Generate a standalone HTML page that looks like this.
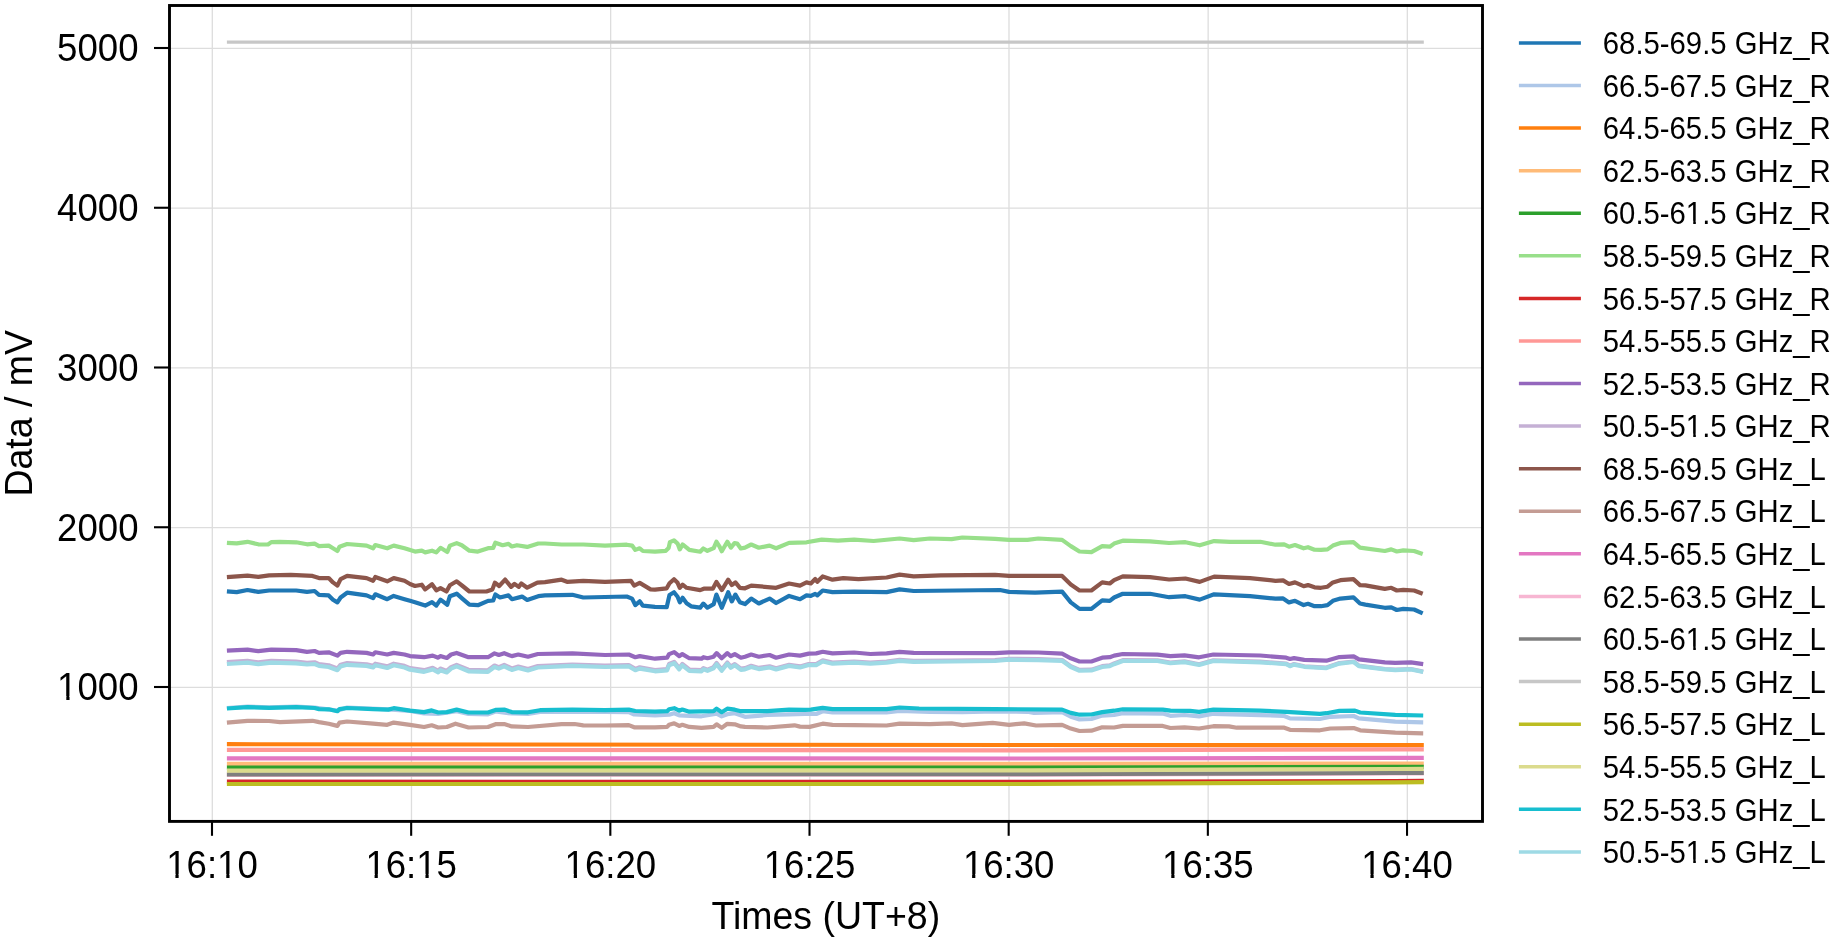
<!DOCTYPE html><html><head><meta charset="utf-8"><style>html,body{margin:0;padding:0;background:#fff;width:1847px;height:941px;overflow:hidden}svg{display:block;will-change:transform}</style></head><body><svg width="1847" height="941" viewBox="0 0 1847 941">
<rect x="0" y="0" width="1847" height="941" fill="#ffffff"/>
<line x1="212.30" y1="5.5" x2="212.30" y2="821.4" stroke="#dddddd" stroke-width="1.3"/>
<line x1="411.47" y1="5.5" x2="411.47" y2="821.4" stroke="#dddddd" stroke-width="1.3"/>
<line x1="610.64" y1="5.5" x2="610.64" y2="821.4" stroke="#dddddd" stroke-width="1.3"/>
<line x1="809.81" y1="5.5" x2="809.81" y2="821.4" stroke="#dddddd" stroke-width="1.3"/>
<line x1="1008.98" y1="5.5" x2="1008.98" y2="821.4" stroke="#dddddd" stroke-width="1.3"/>
<line x1="1208.15" y1="5.5" x2="1208.15" y2="821.4" stroke="#dddddd" stroke-width="1.3"/>
<line x1="1407.32" y1="5.5" x2="1407.32" y2="821.4" stroke="#dddddd" stroke-width="1.3"/>
<line x1="169.5" y1="687.40" x2="1482.5" y2="687.40" stroke="#dddddd" stroke-width="1.3"/>
<line x1="169.5" y1="527.65" x2="1482.5" y2="527.65" stroke="#dddddd" stroke-width="1.3"/>
<line x1="169.5" y1="367.90" x2="1482.5" y2="367.90" stroke="#dddddd" stroke-width="1.3"/>
<line x1="169.5" y1="208.15" x2="1482.5" y2="208.15" stroke="#dddddd" stroke-width="1.3"/>
<line x1="169.5" y1="48.40" x2="1482.5" y2="48.40" stroke="#dddddd" stroke-width="1.3"/>
<path d="M226.9,591.3 L236.7,592.1 L247.5,590.0 L258.3,591.9 L269.1,590.5 L296.2,590.5 L307.0,591.9 L314.6,591.0 L319.0,594.8 L328.7,595.4 L333.0,599.7 L337.4,602.4 L340.6,597.5 L347.1,592.7 L366.6,595.4 L373.1,598.1 L375.3,594.3 L387.2,599.2 L393.7,595.9 L404.5,599.2 L410.0,600.8 L415.0,602.2 L425.2,605.6 L432.0,602.2 L436.3,605.6 L440.5,599.6 L447.3,604.7 L449.9,596.2 L456.7,593.7 L462.6,598.8 L469.4,604.7 L477.9,605.2 L488.1,600.9 L493.2,600.5 L495.4,594.5 L500.0,597.5 L508.5,595.4 L511.9,599.2 L522.1,596.6 L527.2,600.0 L538.3,596.2 L545.0,595.4 L572.4,594.8 L583.3,597.5 L605.0,597.0 L626.7,596.5 L632.1,598.6 L635.3,605.1 L639.7,601.3 L642.9,605.7 L655.0,606.8 L666.7,607.2 L669.5,595.0 L674.0,592.3 L677.6,596.8 L679.8,602.3 L682.6,597.8 L686.6,603.2 L691.1,606.3 L700.2,607.7 L703.3,603.6 L707.4,607.7 L713.7,604.1 L716.4,594.6 L721.8,607.7 L728.2,592.3 L731.8,601.4 L735.4,594.6 L739.9,602.3 L745.0,604.1 L751.2,598.6 L758.8,603.5 L769.6,598.6 L776.1,603.0 L789.1,595.9 L800.0,599.2 L806.5,595.4 L810.8,595.9 L815.2,593.8 L817.3,595.4 L822.7,590.5 L832.5,592.1 L854.1,591.6 L886.6,592.1 L899.6,589.4 L913.7,591.0 L1000.0,590.0 L1009.1,591.9 L1035.1,592.7 L1062.1,591.6 L1070.8,602.4 L1079.5,608.9 L1091.4,608.9 L1102.2,600.3 L1109.8,600.8 L1114.1,597.5 L1122.8,593.8 L1150.0,593.8 L1169.1,597.2 L1185.4,596.2 L1199.7,599.6 L1214.1,594.3 L1250.0,596.2 L1275.5,598.6 L1283.1,598.4 L1289.0,602.4 L1295.0,600.8 L1303.6,605.1 L1308.0,603.8 L1314.5,606.2 L1321.0,606.2 L1327.5,605.1 L1332.9,600.8 L1340.4,598.6 L1353.4,597.3 L1360.0,603.5 L1365.4,604.6 L1384.8,607.8 L1391.3,607.3 L1396.8,610.0 L1403.3,608.9 L1414.1,609.5 L1422.7,613.3" fill="none" stroke="#1f77b4" stroke-width="4.2" stroke-linejoin="round" stroke-linecap="butt"/>
<path d="M226.9,708.0 L247.5,706.6 L269.1,707.3 L296.2,706.6 L314.6,707.5 L337.4,710.7 L347.1,707.5 L388.3,709.3 L410.0,710.9 L424.1,713.5 L438.2,714.0 L456.6,711.2 L468.5,714.0 L488.0,714.3 L495.5,711.5 L511.8,713.5 L528.0,714.0 L540.0,712.0 L572.4,711.8 L605.0,711.8 L628.8,712.1 L634.2,714.5 L655.0,715.3 L669.1,714.7 L674.2,713.2 L679.2,715.3 L701.5,716.3 L716.6,713.7 L721.7,716.3 L727.3,714.2 L734.8,713.2 L745.0,716.8 L767.4,715.0 L789.1,714.3 L805.0,714.0 L816.2,714.0 L822.7,711.2 L832.5,712.3 L886.6,712.3 L899.6,711.0 L929.9,711.8 L962.4,712.1 L995.0,711.5 L1027.5,711.8 L1034.0,712.9 L1062.1,712.1 L1070.8,716.7 L1079.5,719.4 L1091.4,719.0 L1102.2,715.6 L1114.1,715.0 L1122.8,713.2 L1162.8,713.6 L1170.4,715.8 L1184.5,715.0 L1199.1,716.4 L1213.4,713.8 L1260.2,715.1 L1283.6,715.8 L1290.0,718.4 L1319.9,719.0 L1330.3,716.8 L1353.7,716.0 L1358.9,718.4 L1395.3,721.6 L1423.2,722.3" fill="none" stroke="#aec7e8" stroke-width="4.2" stroke-linejoin="round" stroke-linecap="butt"/>
<path d="M226.9,744.2 L1030.0,745.0 L1395.0,745.2 L1423.8,745.2" fill="none" stroke="#ff7f0e" stroke-width="4.2" stroke-linejoin="round" stroke-linecap="butt"/>
<path d="M226.9,763.8 L1030.0,763.8 L1395.0,763.6 L1423.8,763.6" fill="none" stroke="#ffbb78" stroke-width="4.2" stroke-linejoin="round" stroke-linecap="butt"/>
<path d="M226.9,767.5 L1030.0,767.5 L1395.0,766.9 L1423.8,766.9" fill="none" stroke="#2ca02c" stroke-width="4.2" stroke-linejoin="round" stroke-linecap="butt"/>
<path d="M226.9,542.9 L236.7,543.4 L247.5,541.8 L258.3,544.3 L268.0,544.5 L271.3,542.1 L280.0,541.8 L296.2,542.3 L307.0,544.3 L314.6,543.6 L319.0,546.1 L328.7,545.6 L333.0,548.3 L337.4,551.0 L339.5,546.7 L347.1,544.0 L366.6,545.6 L373.1,548.3 L375.3,545.0 L387.2,548.3 L393.7,545.6 L404.5,548.3 L415.0,551.6 L421.8,550.7 L425.2,552.4 L432.0,550.7 L436.3,552.4 L440.5,547.8 L447.3,552.0 L449.9,545.6 L456.7,543.1 L461.8,545.2 L469.4,550.7 L477.9,551.6 L488.1,548.2 L493.2,547.8 L495.4,542.7 L502.6,545.2 L508.5,543.9 L511.9,546.5 L517.0,545.2 L527.2,546.9 L538.3,543.5 L545.0,543.5 L561.6,544.5 L583.3,544.5 L605.0,545.6 L626.7,544.7 L632.1,545.6 L635.3,549.9 L639.7,548.3 L642.9,551.0 L655.0,551.7 L665.8,550.8 L668.6,548.1 L669.9,542.2 L674.0,540.4 L677.6,543.6 L679.8,549.4 L682.6,544.5 L686.6,547.6 L689.3,549.9 L700.2,551.7 L703.3,548.5 L707.4,550.8 L713.7,548.1 L716.4,541.7 L719.1,545.8 L721.8,551.2 L727.3,541.7 L730.9,547.6 L734.5,543.1 L737.2,543.6 L740.8,548.5 L745.0,547.6 L751.2,544.5 L758.8,547.7 L769.6,545.6 L776.1,548.3 L789.1,542.9 L806.5,542.3 L821.7,539.6 L837.9,540.7 L854.1,539.6 L873.6,541.0 L899.6,538.5 L913.7,540.2 L929.9,538.5 L951.6,539.1 L962.4,537.5 L995.0,538.9 L1009.1,539.9 L1027.5,539.9 L1038.3,538.5 L1062.1,539.9 L1070.8,546.1 L1079.5,551.5 L1091.4,552.1 L1102.2,546.1 L1109.8,546.7 L1114.1,543.6 L1122.8,540.7 L1150.0,541.3 L1169.1,543.0 L1185.4,542.2 L1199.7,545.3 L1214.1,541.1 L1230.0,541.8 L1260.3,541.8 L1275.5,544.7 L1284.1,544.3 L1289.0,546.7 L1295.0,545.0 L1303.6,548.3 L1308.0,547.2 L1314.5,549.7 L1321.0,549.9 L1327.5,549.4 L1332.9,545.6 L1340.4,542.9 L1353.4,542.1 L1360.0,547.7 L1365.4,548.3 L1384.8,551.0 L1391.3,549.4 L1396.8,551.5 L1403.3,550.4 L1414.1,551.0 L1422.7,554.0" fill="none" stroke="#98df8a" stroke-width="4.2" stroke-linejoin="round" stroke-linecap="butt"/>
<path d="M226.9,781.7 L1030.0,781.8 L1395.0,781.0 L1423.8,780.9" fill="none" stroke="#d62728" stroke-width="4.2" stroke-linejoin="round" stroke-linecap="butt"/>
<path d="M226.9,749.8 L1030.0,750.3 L1395.0,749.4 L1423.8,749.3" fill="none" stroke="#ff9896" stroke-width="4.2" stroke-linejoin="round" stroke-linecap="butt"/>
<path d="M226.9,650.7 L247.5,649.6 L258.3,651.2 L271.3,649.6 L296.2,650.2 L307.0,651.8 L314.6,651.0 L319.0,652.9 L328.7,652.3 L337.4,655.6 L340.6,652.9 L347.1,651.8 L366.6,652.9 L373.1,654.5 L375.3,652.3 L387.2,654.5 L393.7,652.9 L404.5,654.5 L410.0,656.1 L424.1,657.2 L432.7,655.6 L438.2,657.7 L440.3,656.1 L446.8,658.0 L451.1,654.5 L456.6,652.9 L468.5,657.2 L488.0,657.2 L494.5,653.4 L498.8,655.0 L504.2,653.2 L511.8,656.1 L518.3,654.5 L528.0,656.7 L537.8,654.0 L572.4,653.4 L605.0,655.0 L628.8,654.5 L635.3,657.2 L639.7,656.1 L655.0,658.7 L667.1,657.7 L669.1,654.1 L674.2,652.1 L679.2,656.2 L682.3,654.1 L689.3,658.2 L701.5,658.7 L703.5,657.2 L707.5,658.2 L713.6,656.7 L716.6,653.1 L721.7,658.2 L727.3,653.1 L730.8,656.2 L734.8,654.1 L740.9,657.7 L745.0,656.7 L751.2,654.5 L758.8,656.7 L769.6,655.0 L776.1,657.7 L789.1,654.5 L800.0,655.6 L808.7,653.6 L816.2,653.4 L822.7,651.8 L832.5,653.4 L854.1,652.5 L870.4,654.0 L886.6,653.4 L899.6,651.8 L913.7,652.9 L995.0,653.2 L1009.1,652.3 L1038.3,652.5 L1062.1,653.6 L1070.8,658.3 L1079.5,661.5 L1091.4,661.5 L1102.2,657.7 L1109.8,657.2 L1114.1,655.6 L1122.8,654.0 L1157.4,654.7 L1170.4,656.1 L1184.5,655.4 L1199.1,657.3 L1213.4,654.5 L1260.2,655.5 L1286.2,657.7 L1290.0,659.0 L1294.0,658.1 L1304.3,659.9 L1326.4,660.7 L1339.4,657.1 L1353.7,656.4 L1358.9,659.4 L1384.9,662.3 L1395.3,662.9 L1410.9,662.3 L1423.2,664.2" fill="none" stroke="#9467bd" stroke-width="4.2" stroke-linejoin="round" stroke-linecap="butt"/>
<path d="M226.9,662.2 L247.5,660.8 L258.3,662.4 L271.3,660.9 L296.2,661.7 L307.0,662.8 L314.6,662.3 L319.0,664.2 L328.7,665.3 L337.4,668.5 L340.6,664.7 L347.1,663.1 L366.6,664.3 L373.1,665.9 L375.3,663.7 L387.2,666.4 L393.7,663.7 L404.5,665.9 L410.0,668.1 L424.1,670.2 L432.7,667.8 L438.2,670.8 L440.3,668.6 L446.8,670.9 L451.1,667.1 L456.6,664.9 L468.5,669.8 L488.0,670.3 L494.5,665.5 L498.8,667.1 L504.2,664.9 L511.8,668.4 L518.3,666.5 L528.0,669.1 L537.8,666.1 L572.4,664.5 L605.0,665.6 L628.8,665.1 L635.3,668.9 L639.7,667.3 L655.0,670.0 L667.1,669.0 L669.1,664.0 L674.2,661.9 L679.2,668.0 L682.3,664.0 L689.3,669.5 L701.5,670.1 L703.5,668.1 L707.5,669.6 L713.6,667.1 L716.6,663.0 L721.7,669.6 L727.3,662.5 L730.8,666.6 L734.8,664.1 L740.9,668.6 L745.0,668.1 L751.2,665.8 L758.8,667.9 L769.6,666.3 L776.1,668.2 L789.1,664.8 L800.0,666.4 L808.7,664.0 L816.2,664.0 L822.7,660.4 L832.5,662.6 L854.1,661.5 L870.4,662.7 L886.6,661.6 L899.6,659.8 L913.7,660.9 L951.6,660.5 L995.0,660.1 L1009.1,658.8 L1038.3,659.2 L1062.1,660.0 L1070.8,666.2 L1079.5,669.9 L1091.4,669.7 L1102.2,666.2 L1109.8,665.4 L1114.1,663.4 L1122.8,660.2 L1157.4,660.3 L1170.4,662.5 L1184.5,661.4 L1199.1,664.2 L1213.4,660.4 L1260.2,661.7 L1286.2,663.6 L1290.0,665.6 L1294.0,664.0 L1304.3,666.3 L1326.4,667.6 L1339.4,663.1 L1353.7,661.5 L1358.9,665.7 L1384.9,669.0 L1395.3,669.7 L1410.9,669.0 L1423.2,671.6" fill="none" stroke="#c5b0d5" stroke-width="4.2" stroke-linejoin="round" stroke-linecap="butt"/>
<path d="M226.9,577.2 L247.5,575.7 L258.3,576.8 L269.1,575.4 L290.8,574.8 L312.5,575.9 L319.0,578.1 L328.7,578.1 L333.0,582.4 L337.4,585.6 L340.6,579.1 L347.1,575.9 L366.6,578.1 L373.1,580.8 L375.3,577.0 L387.2,581.3 L393.7,578.1 L404.5,580.8 L410.0,584.0 L415.0,586.0 L421.8,584.7 L425.2,589.4 L432.0,584.3 L436.3,590.3 L440.5,588.1 L446.5,591.5 L449.9,585.2 L456.7,581.3 L462.6,586.0 L469.4,591.5 L486.4,591.5 L492.4,589.4 L494.9,582.6 L499.2,586.0 L505.1,579.6 L511.1,586.9 L514.5,583.9 L518.7,586.9 L521.3,583.5 L527.2,587.7 L537.4,582.6 L545.0,582.2 L561.6,579.7 L567.0,581.8 L583.3,580.8 L605.0,581.8 L631.0,580.8 L634.2,585.6 L639.7,582.9 L650.5,589.4 L655.0,589.6 L666.7,588.3 L669.5,583.3 L674.0,579.2 L677.6,582.8 L679.8,587.8 L682.6,584.7 L686.6,587.8 L700.2,590.1 L703.8,588.7 L712.8,588.7 L716.4,581.9 L721.8,590.1 L728.2,579.7 L731.8,585.1 L735.4,582.4 L739.9,587.8 L745.0,588.3 L751.2,585.6 L776.1,587.8 L789.1,583.5 L800.0,585.6 L806.5,582.4 L810.8,583.5 L815.2,579.1 L817.3,581.8 L822.7,576.4 L832.5,579.7 L843.3,578.1 L858.5,579.1 L886.6,577.5 L899.6,574.6 L913.7,576.4 L940.8,575.4 L995.0,574.8 L1009.1,575.9 L1036.1,575.9 L1062.1,575.9 L1070.8,584.6 L1079.5,590.5 L1091.4,590.5 L1102.2,582.4 L1109.8,583.5 L1114.1,580.2 L1122.8,576.4 L1150.0,577.1 L1169.1,579.5 L1185.4,578.5 L1199.7,581.9 L1214.1,576.6 L1250.0,578.1 L1275.5,580.8 L1283.1,580.4 L1289.0,584.0 L1295.0,582.4 L1303.6,586.2 L1308.0,585.1 L1314.5,587.3 L1321.0,587.8 L1327.5,586.7 L1332.9,582.4 L1340.4,580.2 L1353.4,579.1 L1360.0,585.1 L1365.4,585.4 L1384.8,588.9 L1391.3,587.8 L1396.8,590.5 L1403.3,589.8 L1414.1,590.5 L1422.7,593.8" fill="none" stroke="#8c564b" stroke-width="4.2" stroke-linejoin="round" stroke-linecap="butt"/>
<path d="M226.9,722.6 L247.5,720.8 L269.1,721.0 L280.0,722.1 L312.5,720.8 L319.0,722.1 L328.7,723.7 L337.4,725.9 L339.5,722.6 L347.1,721.5 L373.1,723.7 L387.2,724.8 L393.7,722.6 L410.0,724.8 L424.1,727.0 L431.7,725.3 L438.2,727.5 L446.8,727.0 L455.5,723.7 L468.5,727.5 L488.0,727.0 L495.5,724.2 L504.2,724.0 L511.8,726.4 L528.0,727.0 L561.6,724.2 L574.6,724.0 L583.3,725.3 L605.0,725.5 L628.8,725.1 L634.2,727.3 L655.0,727.4 L667.1,726.9 L669.1,724.8 L674.2,723.3 L679.2,725.9 L682.3,724.8 L689.3,726.9 L701.5,727.9 L713.6,726.9 L716.6,724.3 L721.7,727.9 L727.3,723.8 L734.8,724.3 L740.9,726.4 L745.0,726.9 L767.4,727.5 L794.5,725.3 L800.0,726.6 L809.7,726.9 L822.7,723.7 L832.5,724.8 L854.1,725.1 L886.6,725.5 L899.6,723.7 L929.9,724.2 L951.6,723.4 L962.4,725.1 L992.7,722.9 L1009.1,724.8 L1024.2,723.4 L1036.1,725.5 L1062.1,724.8 L1070.8,728.6 L1079.5,731.0 L1091.4,730.7 L1102.2,727.3 L1114.1,727.5 L1122.8,725.9 L1162.8,725.9 L1170.4,728.0 L1184.5,727.3 L1199.1,728.5 L1213.4,726.2 L1229.0,726.4 L1236.8,727.7 L1283.6,727.5 L1290.0,729.8 L1319.9,730.3 L1330.3,728.5 L1353.7,728.1 L1360.2,730.3 L1395.3,732.7 L1423.2,733.3" fill="none" stroke="#c49c94" stroke-width="4.2" stroke-linejoin="round" stroke-linecap="butt"/>
<path d="M226.9,758.3 L1030.0,758.5 L1395.0,757.9 L1423.8,757.8" fill="none" stroke="#e377c2" stroke-width="4.2" stroke-linejoin="round" stroke-linecap="butt"/>
<path d="M226.9,774.8 L1030.0,774.7 L1395.0,773.5 L1423.8,773.4" fill="none" stroke="#f7b6d2" stroke-width="4.2" stroke-linejoin="round" stroke-linecap="butt"/>
<path d="M226.9,774.3 L1030.0,774.2 L1395.0,773.0 L1423.8,773.0" fill="none" stroke="#7f7f7f" stroke-width="4.2" stroke-linejoin="round" stroke-linecap="butt"/>
<path d="M226.9,42.1 L1423.8,42.1" fill="none" stroke="#c7c7c7" stroke-width="3.1" stroke-linejoin="round" stroke-linecap="butt"/>
<path d="M226.9,784.0 L1030.0,784.0 L1395.0,782.4 L1423.8,782.2" fill="none" stroke="#bcbd22" stroke-width="4.2" stroke-linejoin="round" stroke-linecap="butt"/>
<path d="M226.9,770.6 L1030.0,770.3 L1395.0,769.0 L1423.8,768.9" fill="none" stroke="#dbdb8d" stroke-width="4.2" stroke-linejoin="round" stroke-linecap="butt"/>
<path d="M226.9,708.5 L247.5,707.1 L269.1,707.8 L296.2,707.1 L314.6,708.0 L319.0,709.1 L328.7,709.3 L337.4,711.2 L339.5,709.1 L347.1,708.0 L373.1,709.1 L388.3,709.6 L393.7,708.2 L410.0,710.7 L424.1,712.1 L431.7,710.4 L438.2,712.5 L446.8,712.1 L456.6,709.6 L468.5,712.5 L488.0,712.5 L495.5,709.9 L504.2,709.6 L511.8,712.1 L528.0,712.3 L540.0,710.2 L572.4,709.6 L605.0,710.2 L628.8,709.6 L635.3,711.0 L655.0,711.7 L667.1,711.2 L669.1,709.2 L674.2,708.2 L679.2,710.7 L682.3,709.5 L689.3,711.7 L713.6,711.2 L716.6,708.7 L721.7,712.2 L727.3,708.7 L734.8,709.7 L740.9,711.2 L745.0,711.2 L767.4,711.2 L789.1,709.6 L805.0,709.9 L810.8,709.6 L822.7,707.8 L832.5,709.1 L886.6,709.1 L899.6,707.5 L919.1,708.5 L995.0,709.1 L1062.1,709.6 L1070.8,712.9 L1079.5,714.7 L1091.4,714.5 L1102.2,712.1 L1114.1,710.7 L1122.8,709.3 L1162.8,709.6 L1170.4,710.7 L1190.0,710.9 L1199.1,711.9 L1213.4,709.6 L1260.2,710.6 L1286.2,711.9 L1319.9,713.8 L1326.4,713.2 L1339.4,710.9 L1355.0,710.6 L1360.2,712.5 L1395.3,714.8 L1423.2,715.5" fill="none" stroke="#17becf" stroke-width="4.2" stroke-linejoin="round" stroke-linecap="butt"/>
<path d="M226.9,664.0 L247.5,662.6 L258.3,664.2 L271.3,662.6 L296.2,663.4 L307.0,664.5 L314.6,664.0 L319.0,665.9 L328.7,667.0 L337.4,670.2 L340.6,666.4 L347.1,664.8 L366.6,665.9 L373.1,667.5 L375.3,665.3 L387.2,668.0 L393.7,665.3 L404.5,667.5 L410.0,669.7 L424.1,671.8 L432.7,669.4 L438.2,672.4 L440.3,670.2 L446.8,672.4 L451.1,668.6 L456.6,666.4 L468.5,671.3 L488.0,671.8 L494.5,667.0 L498.8,668.6 L504.2,666.4 L511.8,669.9 L518.3,668.0 L528.0,670.5 L537.8,667.5 L572.4,665.9 L605.0,667.0 L628.8,666.4 L635.3,670.2 L639.7,668.6 L655.0,671.3 L667.1,670.3 L669.1,665.3 L674.2,663.2 L679.2,669.3 L682.3,665.3 L689.3,670.8 L701.5,671.3 L703.5,669.3 L707.5,670.8 L713.6,668.3 L716.6,664.2 L721.7,670.8 L727.3,663.7 L730.8,667.8 L734.8,665.3 L740.9,669.8 L745.0,669.3 L751.2,667.0 L758.8,669.1 L769.6,667.5 L776.1,669.4 L789.1,665.9 L800.0,667.5 L808.7,665.1 L816.2,665.1 L822.7,661.5 L832.5,663.7 L854.1,662.6 L870.4,663.7 L886.6,662.6 L899.6,660.8 L913.7,661.9 L951.6,661.5 L995.0,661.0 L1009.1,659.7 L1038.3,660.1 L1062.1,660.8 L1070.8,667.0 L1079.5,670.7 L1091.4,670.5 L1102.2,667.0 L1109.8,666.2 L1114.1,664.2 L1122.8,661.0 L1157.4,661.0 L1170.4,663.2 L1184.5,662.1 L1199.1,664.9 L1213.4,661.0 L1260.2,662.3 L1286.2,664.2 L1290.0,666.2 L1294.0,664.6 L1304.3,666.8 L1326.4,668.1 L1339.4,663.6 L1353.7,662.0 L1358.9,666.2 L1384.9,669.4 L1395.3,670.1 L1410.9,669.4 L1423.2,672.0" fill="none" stroke="#9edae5" stroke-width="4.2" stroke-linejoin="round" stroke-linecap="butt"/>
<rect x="169.5" y="5.5" width="1313.0" height="815.9" fill="none" stroke="#000" stroke-width="2.9" stroke-linejoin="miter"/>
<line x1="212.00" y1="821.4" x2="212.00" y2="835.8" stroke="#000" stroke-width="2.1"/>
<line x1="411.17" y1="821.4" x2="411.17" y2="835.8" stroke="#000" stroke-width="2.1"/>
<line x1="610.34" y1="821.4" x2="610.34" y2="835.8" stroke="#000" stroke-width="2.1"/>
<line x1="809.51" y1="821.4" x2="809.51" y2="835.8" stroke="#000" stroke-width="2.1"/>
<line x1="1008.68" y1="821.4" x2="1008.68" y2="835.8" stroke="#000" stroke-width="2.1"/>
<line x1="1207.85" y1="821.4" x2="1207.85" y2="835.8" stroke="#000" stroke-width="2.1"/>
<line x1="1407.02" y1="821.4" x2="1407.02" y2="835.8" stroke="#000" stroke-width="2.1"/>
<line x1="169.5" y1="687.00" x2="154.0" y2="687.00" stroke="#000" stroke-width="2.1"/>
<line x1="169.5" y1="527.25" x2="154.0" y2="527.25" stroke="#000" stroke-width="2.1"/>
<line x1="169.5" y1="367.50" x2="154.0" y2="367.50" stroke="#000" stroke-width="2.1"/>
<line x1="169.5" y1="207.75" x2="154.0" y2="207.75" stroke="#000" stroke-width="2.1"/>
<line x1="169.5" y1="48.00" x2="154.0" y2="48.00" stroke="#000" stroke-width="2.1"/>
<g transform="translate(212.00,878.20) scale(1,1.06)" opacity="0.999"><text id="t0" x="0" y="0" font-size="36.6" text-anchor="middle" font-family="'Liberation Sans', sans-serif">16:10</text><rect x="-44.18" y="-4.03" width="7.60" height="4.83" fill="#fff"/><rect x="-33.35" y="-4.03" width="7.40" height="4.83" fill="#fff"/><rect x="6.68" y="-4.03" width="7.60" height="4.83" fill="#fff"/><rect x="17.51" y="-4.03" width="7.40" height="4.83" fill="#fff"/></g>
<g transform="translate(411.17,878.20) scale(1,1.06)" opacity="0.999"><text id="t1" x="0" y="0" font-size="36.6" text-anchor="middle" font-family="'Liberation Sans', sans-serif">16:15</text><rect x="-44.18" y="-4.03" width="7.60" height="4.83" fill="#fff"/><rect x="-33.35" y="-4.03" width="7.40" height="4.83" fill="#fff"/><rect x="6.68" y="-4.03" width="7.60" height="4.83" fill="#fff"/><rect x="17.51" y="-4.03" width="7.40" height="4.83" fill="#fff"/></g>
<g transform="translate(610.34,878.20) scale(1,1.06)" opacity="0.999"><text id="t2" x="0" y="0" font-size="36.6" text-anchor="middle" font-family="'Liberation Sans', sans-serif">16:20</text><rect x="-44.18" y="-4.03" width="7.60" height="4.83" fill="#fff"/><rect x="-33.35" y="-4.03" width="7.40" height="4.83" fill="#fff"/></g>
<g transform="translate(809.51,878.20) scale(1,1.06)" opacity="0.999"><text id="t3" x="0" y="0" font-size="36.6" text-anchor="middle" font-family="'Liberation Sans', sans-serif">16:25</text><rect x="-44.18" y="-4.03" width="7.60" height="4.83" fill="#fff"/><rect x="-33.35" y="-4.03" width="7.40" height="4.83" fill="#fff"/></g>
<g transform="translate(1008.68,878.20) scale(1,1.06)" opacity="0.999"><text id="t4" x="0" y="0" font-size="36.6" text-anchor="middle" font-family="'Liberation Sans', sans-serif">16:30</text><rect x="-44.18" y="-4.03" width="7.60" height="4.83" fill="#fff"/><rect x="-33.35" y="-4.03" width="7.40" height="4.83" fill="#fff"/></g>
<g transform="translate(1207.85,878.20) scale(1,1.06)" opacity="0.999"><text id="t5" x="0" y="0" font-size="36.6" text-anchor="middle" font-family="'Liberation Sans', sans-serif">16:35</text><rect x="-44.18" y="-4.03" width="7.60" height="4.83" fill="#fff"/><rect x="-33.35" y="-4.03" width="7.40" height="4.83" fill="#fff"/></g>
<g transform="translate(1407.02,878.20) scale(1,1.06)" opacity="0.999"><text id="t6" x="0" y="0" font-size="36.6" text-anchor="middle" font-family="'Liberation Sans', sans-serif">16:40</text><rect x="-44.18" y="-4.03" width="7.60" height="4.83" fill="#fff"/><rect x="-33.35" y="-4.03" width="7.40" height="4.83" fill="#fff"/></g>
<g transform="translate(138.50,700.30) scale(1,1.06)" opacity="0.999"><text id="t7" x="0" y="0" font-size="36.6" text-anchor="end" font-family="'Liberation Sans', sans-serif">1000</text><rect x="-79.79" y="-4.03" width="7.60" height="4.83" fill="#fff"/><rect x="-68.96" y="-4.03" width="7.40" height="4.83" fill="#fff"/></g>
<g transform="translate(138.50,540.55) scale(1,1.06)" opacity="0.999"><text id="t8" x="0" y="0" font-size="36.6" text-anchor="end" font-family="'Liberation Sans', sans-serif">2000</text></g>
<g transform="translate(138.50,380.80) scale(1,1.06)" opacity="0.999"><text id="t9" x="0" y="0" font-size="36.6" text-anchor="end" font-family="'Liberation Sans', sans-serif">3000</text></g>
<g transform="translate(138.50,221.05) scale(1,1.06)" opacity="0.999"><text id="t10" x="0" y="0" font-size="36.6" text-anchor="end" font-family="'Liberation Sans', sans-serif">4000</text></g>
<g transform="translate(138.50,61.30) scale(1,1.06)" opacity="0.999"><text id="t11" x="0" y="0" font-size="36.6" text-anchor="end" font-family="'Liberation Sans', sans-serif">5000</text></g>
<g transform="translate(825.80,929.00) scale(1,1.03)" opacity="0.999"><text id="t12" x="0" y="0" font-size="37.5" text-anchor="middle" font-family="'Liberation Sans', sans-serif">Times (UT+8)</text></g>
<g transform="translate(31.90,413.30) rotate(-90) scale(1,1.03)" opacity="0.999"><text id="t13" x="0" y="0" font-size="37.5" text-anchor="middle" font-family="'Liberation Sans', sans-serif">Data / mV</text></g>
<line x1="1518.9" y1="42.90" x2="1580.9" y2="42.90" stroke="#1f77b4" stroke-width="3.5"/>
<g transform="translate(1602.80,54.10) scale(1,1.06)" opacity="0.999"><text id="t14" x="0" y="0" font-size="29.3" text-anchor="start" font-family="'Liberation Sans', sans-serif">68.5-69.5 GHz_R</text></g>
<line x1="1518.9" y1="85.48" x2="1580.9" y2="85.48" stroke="#aec7e8" stroke-width="3.5"/>
<g transform="translate(1602.80,96.68) scale(1,1.06)" opacity="0.999"><text id="t15" x="0" y="0" font-size="29.3" text-anchor="start" font-family="'Liberation Sans', sans-serif">66.5-67.5 GHz_R</text></g>
<line x1="1518.9" y1="128.06" x2="1580.9" y2="128.06" stroke="#ff7f0e" stroke-width="3.5"/>
<g transform="translate(1602.80,139.26) scale(1,1.06)" opacity="0.999"><text id="t16" x="0" y="0" font-size="29.3" text-anchor="start" font-family="'Liberation Sans', sans-serif">64.5-65.5 GHz_R</text></g>
<line x1="1518.9" y1="170.64" x2="1580.9" y2="170.64" stroke="#ffbb78" stroke-width="3.5"/>
<g transform="translate(1602.80,181.84) scale(1,1.06)" opacity="0.999"><text id="t17" x="0" y="0" font-size="29.3" text-anchor="start" font-family="'Liberation Sans', sans-serif">62.5-63.5 GHz_R</text></g>
<line x1="1518.9" y1="213.22" x2="1580.9" y2="213.22" stroke="#2ca02c" stroke-width="3.5"/>
<g transform="translate(1602.80,224.42) scale(1,1.06)" opacity="0.999"><text id="t18" x="0" y="0" font-size="29.3" text-anchor="start" font-family="'Liberation Sans', sans-serif">60.5-61.5 GHz_R</text><rect x="84.35" y="-3.49" width="6.08" height="4.29" fill="#fff"/><rect x="93.02" y="-3.49" width="5.92" height="4.29" fill="#fff"/></g>
<line x1="1518.9" y1="255.80" x2="1580.9" y2="255.80" stroke="#98df8a" stroke-width="3.5"/>
<g transform="translate(1602.80,267.00) scale(1,1.06)" opacity="0.999"><text id="t19" x="0" y="0" font-size="29.3" text-anchor="start" font-family="'Liberation Sans', sans-serif">58.5-59.5 GHz_R</text></g>
<line x1="1518.9" y1="298.38" x2="1580.9" y2="298.38" stroke="#d62728" stroke-width="3.5"/>
<g transform="translate(1602.80,309.58) scale(1,1.06)" opacity="0.999"><text id="t20" x="0" y="0" font-size="29.3" text-anchor="start" font-family="'Liberation Sans', sans-serif">56.5-57.5 GHz_R</text></g>
<line x1="1518.9" y1="340.96" x2="1580.9" y2="340.96" stroke="#ff9896" stroke-width="3.5"/>
<g transform="translate(1602.80,352.16) scale(1,1.06)" opacity="0.999"><text id="t21" x="0" y="0" font-size="29.3" text-anchor="start" font-family="'Liberation Sans', sans-serif">54.5-55.5 GHz_R</text></g>
<line x1="1518.9" y1="383.54" x2="1580.9" y2="383.54" stroke="#9467bd" stroke-width="3.5"/>
<g transform="translate(1602.80,394.74) scale(1,1.06)" opacity="0.999"><text id="t22" x="0" y="0" font-size="29.3" text-anchor="start" font-family="'Liberation Sans', sans-serif">52.5-53.5 GHz_R</text></g>
<line x1="1518.9" y1="426.12" x2="1580.9" y2="426.12" stroke="#c5b0d5" stroke-width="3.5"/>
<g transform="translate(1602.80,437.32) scale(1,1.06)" opacity="0.999"><text id="t23" x="0" y="0" font-size="29.3" text-anchor="start" font-family="'Liberation Sans', sans-serif">50.5-51.5 GHz_R</text><rect x="84.35" y="-3.49" width="6.08" height="4.29" fill="#fff"/><rect x="93.02" y="-3.49" width="5.92" height="4.29" fill="#fff"/></g>
<line x1="1518.9" y1="468.70" x2="1580.9" y2="468.70" stroke="#8c564b" stroke-width="3.5"/>
<g transform="translate(1602.80,479.90) scale(1,1.06)" opacity="0.999"><text id="t24" x="0" y="0" font-size="29.3" text-anchor="start" font-family="'Liberation Sans', sans-serif">68.5-69.5 GHz_L</text></g>
<line x1="1518.9" y1="511.28" x2="1580.9" y2="511.28" stroke="#c49c94" stroke-width="3.5"/>
<g transform="translate(1602.80,522.48) scale(1,1.06)" opacity="0.999"><text id="t25" x="0" y="0" font-size="29.3" text-anchor="start" font-family="'Liberation Sans', sans-serif">66.5-67.5 GHz_L</text></g>
<line x1="1518.9" y1="553.86" x2="1580.9" y2="553.86" stroke="#e377c2" stroke-width="3.5"/>
<g transform="translate(1602.80,565.06) scale(1,1.06)" opacity="0.999"><text id="t26" x="0" y="0" font-size="29.3" text-anchor="start" font-family="'Liberation Sans', sans-serif">64.5-65.5 GHz_L</text></g>
<line x1="1518.9" y1="596.44" x2="1580.9" y2="596.44" stroke="#f7b6d2" stroke-width="3.5"/>
<g transform="translate(1602.80,607.64) scale(1,1.06)" opacity="0.999"><text id="t27" x="0" y="0" font-size="29.3" text-anchor="start" font-family="'Liberation Sans', sans-serif">62.5-63.5 GHz_L</text></g>
<line x1="1518.9" y1="639.02" x2="1580.9" y2="639.02" stroke="#7f7f7f" stroke-width="3.5"/>
<g transform="translate(1602.80,650.22) scale(1,1.06)" opacity="0.999"><text id="t28" x="0" y="0" font-size="29.3" text-anchor="start" font-family="'Liberation Sans', sans-serif">60.5-61.5 GHz_L</text><rect x="84.35" y="-3.49" width="6.08" height="4.29" fill="#fff"/><rect x="93.02" y="-3.49" width="5.92" height="4.29" fill="#fff"/></g>
<line x1="1518.9" y1="681.60" x2="1580.9" y2="681.60" stroke="#c7c7c7" stroke-width="3.5"/>
<g transform="translate(1602.80,692.80) scale(1,1.06)" opacity="0.999"><text id="t29" x="0" y="0" font-size="29.3" text-anchor="start" font-family="'Liberation Sans', sans-serif">58.5-59.5 GHz_L</text></g>
<line x1="1518.9" y1="724.18" x2="1580.9" y2="724.18" stroke="#bcbd22" stroke-width="3.5"/>
<g transform="translate(1602.80,735.38) scale(1,1.06)" opacity="0.999"><text id="t30" x="0" y="0" font-size="29.3" text-anchor="start" font-family="'Liberation Sans', sans-serif">56.5-57.5 GHz_L</text></g>
<line x1="1518.9" y1="766.76" x2="1580.9" y2="766.76" stroke="#dbdb8d" stroke-width="3.5"/>
<g transform="translate(1602.80,777.96) scale(1,1.06)" opacity="0.999"><text id="t31" x="0" y="0" font-size="29.3" text-anchor="start" font-family="'Liberation Sans', sans-serif">54.5-55.5 GHz_L</text></g>
<line x1="1518.9" y1="809.34" x2="1580.9" y2="809.34" stroke="#17becf" stroke-width="3.5"/>
<g transform="translate(1602.80,820.54) scale(1,1.06)" opacity="0.999"><text id="t32" x="0" y="0" font-size="29.3" text-anchor="start" font-family="'Liberation Sans', sans-serif">52.5-53.5 GHz_L</text></g>
<line x1="1518.9" y1="851.92" x2="1580.9" y2="851.92" stroke="#9edae5" stroke-width="3.5"/>
<g transform="translate(1602.80,863.12) scale(1,1.06)" opacity="0.999"><text id="t33" x="0" y="0" font-size="29.3" text-anchor="start" font-family="'Liberation Sans', sans-serif">50.5-51.5 GHz_L</text><rect x="84.35" y="-3.49" width="6.08" height="4.29" fill="#fff"/><rect x="93.02" y="-3.49" width="5.92" height="4.29" fill="#fff"/></g>
</svg></body></html>
